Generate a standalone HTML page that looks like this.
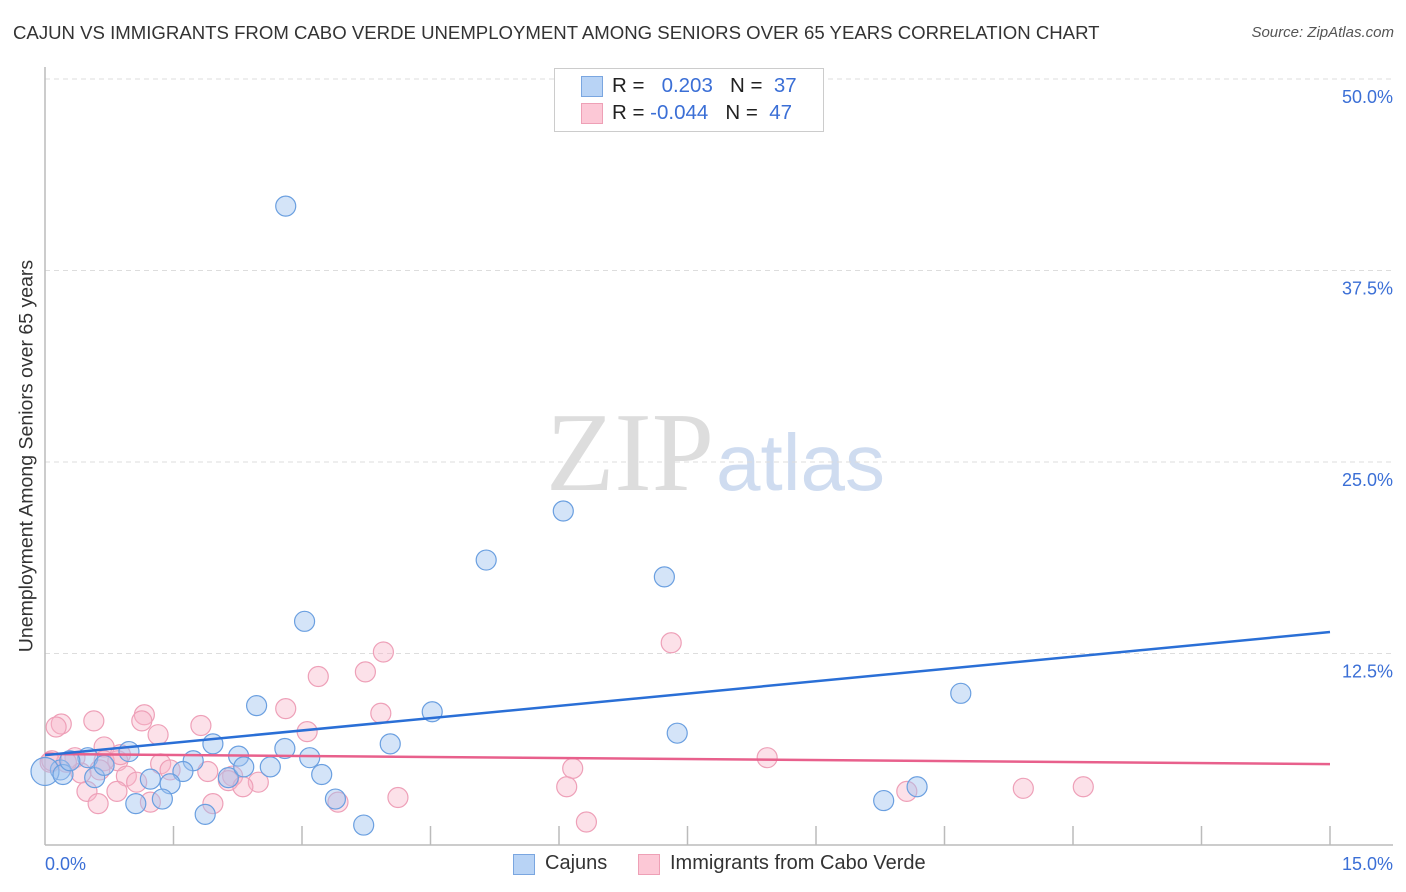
<!DOCTYPE html>
<html><head><meta charset="utf-8">
<style>
body{margin:0;background:#fff;font-family:"Liberation Sans",sans-serif;}
#c{position:relative;width:1406px;height:892px;overflow:hidden;}
.t{position:absolute;white-space:nowrap;}
</style></head>
<body>
<div id="c">
<div class="t" style="left:13px;top:22px;font-size:18.6px;color:#333;">CAJUN VS IMMIGRANTS FROM CABO VERDE UNEMPLOYMENT AMONG SENIORS OVER 65 YEARS CORRELATION CHART</div>
<div class="t" style="right:12px;top:24px;font-size:15px;color:#555;font-style:italic;">Source: ZipAtlas.com</div>
<svg id="s" width="1406" height="892" style="position:absolute;left:0;top:0;">
<text x="714" y="490" text-anchor="end" font-family="Liberation Serif,serif" font-size="112" fill="#ddd">ZIP</text>
<text x="716" y="490" font-family="Liberation Sans,sans-serif" font-size="80" fill="#cfdcf0">atlas</text>
</svg>
<div class="t" style="left:27px;top:456px;font-size:19.5px;color:#333;transform:translate(-50%,-50%) rotate(-90deg);">Unemployment Among Seniors over 65 years</div>
<div style="position:absolute;left:554px;top:68px;width:268px;height:62px;border:1px solid #ccc;background:#fff;">
 <div style="position:absolute;left:26px;top:7px;width:20px;height:19px;background:#b8d3f5;border:1px solid #7aa6e0;"></div>
 <div class="t" style="left:57px;top:5px;font-size:20.5px;color:#222;">R = &nbsp;&nbsp;<span style="color:#3b6fd6">0.203</span>&nbsp;&nbsp;&nbsp;N = &nbsp;<span style="color:#3b6fd6">37</span></div>
 <div style="position:absolute;left:26px;top:34px;width:20px;height:19px;background:#fcc8d6;border:1px solid #eea0b6;"></div>
 <div class="t" style="left:57px;top:32px;font-size:20.5px;color:#222;">R = <span style="color:#3b6fd6">-0.044</span>&nbsp;&nbsp;&nbsp;N = &nbsp;<span style="color:#3b6fd6">47</span></div>
</div>
<div>
 <div style="position:absolute;left:513px;top:854px;width:20px;height:19px;background:#b8d3f5;border:1px solid #7aa6e0;"></div>
 <div class="t" style="left:545px;top:852px;font-size:20px;color:#333;">Cajuns</div>
 <div style="position:absolute;left:638px;top:854px;width:20px;height:19px;background:#fcc8d6;border:1px solid #eea0b6;"></div>
 <div class="t" style="left:670px;top:852px;font-size:20px;color:#333;">Immigrants from Cabo Verde</div>
</div>
</div>
<script>
const yTicks=[12.5,25,37.5,50];
const yTickLabels=["12.5%","25.0%","37.5%","50.0%"];
const xTickLabels=["0.0%","15.0%"];
const cajunX=[2.81,6.05,5.15,7.23,3.03,10.69,2.47,4.52,7.38,4.03,1.96,0.98,0.50,1.73,2.26,2.80,3.09,0.18,0.0,0.58,1.23,1.61,2.14,2.32,2.63,3.23,0.69,1.46,1.06,1.37,1.87,3.39,3.72,9.79,10.18,0.21,0.29];
const cajunY=[41.7,21.8,18.6,17.5,14.6,9.9,9.1,8.7,7.3,6.6,6.6,6.1,5.7,5.5,5.8,6.3,5.7,4.9,4.8,4.4,4.3,4.8,4.4,5.1,5.1,4.6,5.2,4.0,2.7,3.0,2.0,3.0,1.3,2.9,3.8,4.6,5.5];
const caboX=[7.31,3.95,3.74,3.19,2.81,3.92,1.16,1.82,0.19,0.57,1.13,3.06,1.32,0.69,0.06,0.35,0.85,8.43,6.16,1.35,1.46,1.90,2.19,0.42,0.95,1.07,2.14,2.49,2.31,6.09,11.42,12.12,10.06,0.84,0.49,1.23,0.62,1.96,3.42,4.12,6.32,0.13,0.25,0.69,0.88,0.08,0.64];
const caboY=[13.2,12.6,11.3,11.0,8.9,8.6,8.5,7.8,7.9,8.1,8.1,7.4,7.2,6.4,5.4,5.7,5.5,5.7,5.0,5.3,4.9,4.8,4.5,4.7,4.5,4.1,4.2,4.1,3.8,3.8,3.7,3.8,3.5,3.5,3.5,2.8,2.7,2.7,2.8,3.1,1.5,7.7,5.4,5.5,5.9,5.5,4.9];
const cajunTrend=[5.87,13.9];
const caboTrend=[5.94,5.28];
const X0=45,X1=1330,Y0=845,Y1=79;
const sx=v=>X0+(v/15)*(X1-X0);
const sy=v=>Y0-(v/50)*(Y0-Y1);
const s=document.getElementById('s');
const NS='http://www.w3.org/2000/svg';
function mk(t,a){const e=document.createElementNS(NS,t);for(const k in a)e.setAttribute(k,a[k]);s.appendChild(e);return e;}
[...yTicks].forEach((v,i)=>{
 const g=mk('line',{x1:X0,x2:1393,y1:sy(v),y2:sy(v),stroke:'#ddd','stroke-dasharray':'5,4'});
 
 
 const t=mk('text',{x:1393,y:sy(v)+24,'text-anchor':'end','font-size':18,fill:'#3b6fd6'});
 t.textContent=yTickLabels[i];
 
 
});
let a=mk('line',{x1:X0,x2:X0,y1:67,y2:Y0,stroke:'#bbb','stroke-width':1.5});


a=mk('line',{x1:X0,x2:1393,y1:Y0,y2:Y0,stroke:'#bbb','stroke-width':1.5});


for(let i=1;i<=10;i++){const v=i*1.5;const t=mk('line',{x1:sx(v),x2:sx(v),y1:Y0-19,y2:Y0,stroke:'#bbb','stroke-width':1.5});
 
 }
[[0,'start',45],[15,'end',1393]].forEach((d,i)=>{const t=mk('text',{x:d[2],y:870,'text-anchor':d[1],'font-size':18,fill:'#3b6fd6'});t.textContent=xTickLabels[i];
 
 });
function pts(X,Y,fill,stroke,name){X.forEach((x,i)=>{const c=mk('circle',{cx:sx(x),cy:sy(Y[i]),r:(x===0?14:10),fill:fill,stroke:stroke,'stroke-width':1.2});
 
 });}
pts(caboX,caboY,'rgba(248,180,200,0.4)','#eea0b8','point-cabo-verde');
pts(cajunX,cajunY,'rgba(160,196,240,0.45)','#6a9fe0','point-cajun');
let l=mk('line',{x1:sx(0),x2:sx(15),y1:sy(caboTrend[0]),y2:sy(caboTrend[1]),stroke:'#e8608c','stroke-width':2.5});


l=mk('line',{x1:sx(0),x2:sx(15),y1:sy(cajunTrend[0]),y2:sy(cajunTrend[1]),stroke:'#2a6fd6','stroke-width':2.5});


</script>
</body></html>
